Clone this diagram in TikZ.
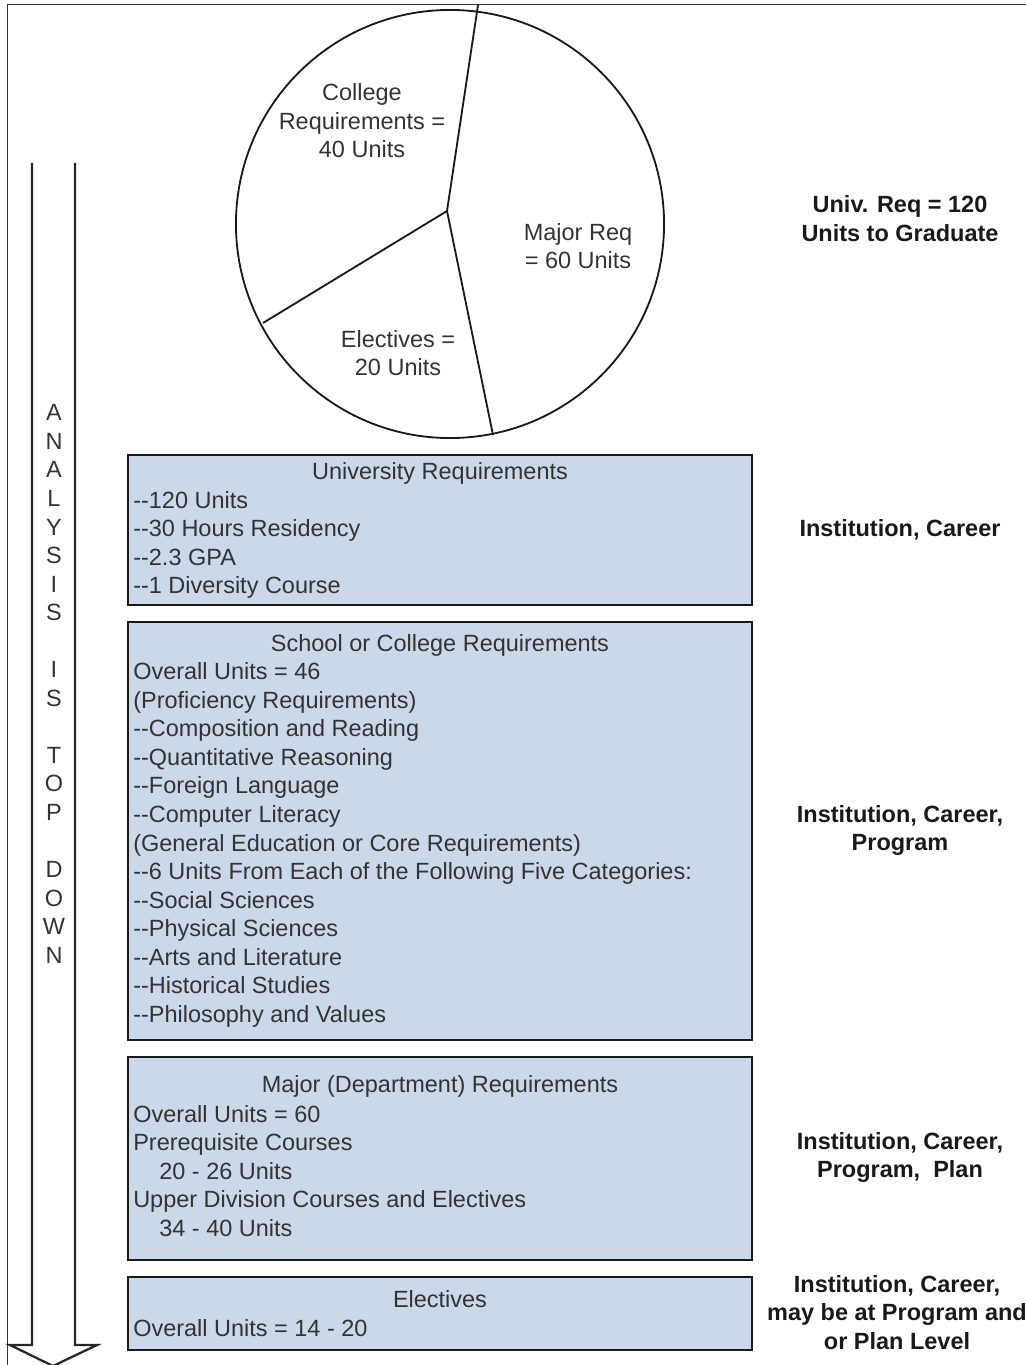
\documentclass[tikz,border=0pt]{standalone}
\usepackage{fontspec}
\setmainfont{Liberation Sans}
\usepackage{xcolor}
\usepackage{tikz}

\definecolor{reqblue}{HTML}{CBD8EA}

\begin{document}
\begin{tikzpicture}[
        x = 0.025cm, y = -0.025cm,
        every node/.style = {inner sep=0pt, font=\fontsize{16.7}{20.3}\selectfont, text=black!80},
        reqbox/.style = {draw=black!90, fill=reqblue, line width=1.3pt, minimum width=15.6cm},
        reqtitle/.style = {align=center},
        reqlist/.style = {align=left, anchor=west},
        scopelabel/.style = {align=center, font=\fontsize{16.7}{20.3}\selectfont\bfseries, text=black!90},
        pieline/.style = {line width=1.3pt, black!90},
        arrowline/.style = {line width=1.6pt, black!85},
        frame/.style = {line width=0.7pt, black!80},
      ]

      \useasboundingbox (0,0) rectangle (1026,1365);

      % frame
      \draw[frame] (7,1365) -- (7,4) -- (1026,4);

      % pie
      \coordinate (hub) at (447,211);
      \coordinate (slicetop) at (478,5);
      \coordinate (sliceleft) at (263,323);
      \coordinate (slicebottom) at (493,435);
      \draw[pieline] (450,224) circle [radius=5.35cm];
      \draw[pieline] (slicetop) -- (hub) -- (sliceleft);
      \draw[pieline] (hub) -- (slicebottom);

      \node[reqtitle] (college) at (362,121) {College\\Requirements =\\40 Units};
      \node[reqtitle] (major) at (578,246) {Major Req\\= 60 Units};
      \node[reqtitle] (electives) at (398,353) {Electives =\\20 Units};

      % arrow
      \draw[arrowline] (32,163) -- (32,1345) -- (10,1345) -- (53,1366)
        -- (97,1345) -- (75,1345) -- (75,163);
      \node[reqtitle] (topdown) at (54,684)
        {A\\N\\A\\L\\Y\\S\\I\\S\\\mbox{}\\I\\S\\\mbox{}\\T\\O\\P\\\mbox{}\\D\\O\\W\\N};

      % university
      \node[reqbox, minimum height=3.75cm] (univ) at (440,530) {};
      \node[reqtitle] (univtitle) at (440,473) {University Requirements};
      \node[reqlist] (univlist) at (133,545)
        {-{}-120 Units\\-{}-30 Hours Residency\\-{}-2.3 GPA\\-{}-1 Diversity Course};

      % school or college
      \node[reqbox, minimum height=10.45cm] (school) at (440,831) {};
      \node[reqtitle] (schooltitle) at (440,645) {School or College Requirements};
      \node[reqlist] (schoollist) at (133,845)
        {Overall Units = 46\\
         (Proficiency Requirements)\\
         -{}-Composition and Reading\\
         -{}-Quantitative Reasoning\\
         -{}-Foreign Language\\
         -{}-Computer Literacy\\
         (General Education or Core Requirements)\\
         -{}-6 Units From Each of the Following Five Categories:\\
         -{}-Social Sciences\\
         -{}-Physical Sciences\\
         -{}-Arts and Literature\\
         -{}-Historical Studies\\
         -{}-Philosophy and Values};

      % major
      \node[reqbox, minimum height=5.075cm] (dept) at (440,1158.5) {};
      \node[reqtitle] (depttitle) at (440,1086) {Major (Department) Requirements};
      \node[reqlist] (deptlist) at (133,1171)
        {Overall Units = 60\\
         Prerequisite Courses\\
         \hspace*{0.65cm}20 - 26 Units\\
         Upper Division Courses and Electives\\
         \hspace*{0.65cm}34 - 40 Units};

      % electives
      \node[reqbox, minimum height=1.825cm] (elect) at (440,1313.5) {};
      \node[reqtitle] (electtitle) at (440,1299) {Electives};
      \node[reqlist] (electlist) at (133,1328) {Overall Units = 14 - 20};

      % levels
      \node[scopelabel] (univreq) at (900,218.5) {Univ. Req = 120\\Units to Graduate};
      \node[scopelabel] (univlevel) at (900,530) {Institution, Career};
      \node[scopelabel] (schoollevel) at (900,830.5) {Institution, Career,\\Program};
      \node[scopelabel] (deptlevel) at (900,1157.5) {Institution, Career,\\Program,\ \ Plan};
      \node[scopelabel] (electlevel) at (897,1312.5)
        {Institution, Career,\\may be at Program and\\or Plan Level};

    \end{tikzpicture}
\end{document}
